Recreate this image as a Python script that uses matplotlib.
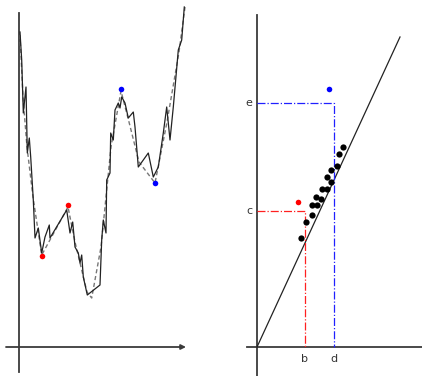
import matplotlib
matplotlib.use("Agg")
import matplotlib.pyplot as plt

# ---- left panel: price path (solid) and its approximation (dashed)
path_t = [1, 2.7, 4.3, 7, 8.3, 10.3, 11.7, 14.3, 16, 19.3, 22.7, 26, 30.3, 31, 47.7, 51, 53.7, 56,
          59.3, 61, 62.7, 64.3, 68.3, 81, 82.7, 84.3, 87, 87.7, 91, 91.7, 94.3, 96, 99.3, 101, 102.7,
          106, 109.3, 114.3, 116, 119.3, 129.3, 134.3, 139.3, 144.3, 147.7, 151, 154.3, 159.3, 162.7, 165.3]
path_v = [315, 287, 234, 260, 194, 209, 190, 147, 109, 119, 94, 110, 122, 109, 137, 114, 125, 100,
          94, 84, 92, 70, 52, 62, 107, 127, 114, 167, 174, 214, 207, 237, 244, 239, 250,
          244, 229, 235, 220, 180, 194, 170, 180, 214, 240, 207, 240, 297, 307, 340]
approx_t = [1, 4, 8, 14, 22.7, 49, 56, 68, 72.7, 82, 92, 102, 110, 120, 136, 148, 160, 166]
approx_v = [312, 250, 200, 150, 92, 140, 105, 55, 49, 100, 200, 256, 225, 185, 164, 225, 295, 340]
red_t = [23, 49]
red_v = [91, 142]
blue_t = [102, 136]
blue_v = [258, 164]

# ---- right panel: scatter against diagonal
dots_x = [43.7, 48.7, 54.7, 54.7, 59.7, 59, 64, 65, 69.7, 69.7, 74, 74, 80.3, 81.7, 86.3]
dots_y = [109.3, 125.3, 132, 142, 142, 150.3, 147.7, 157.7, 157.7, 170.3, 165.3, 177, 181.3, 193, 200.3]
red_pt = (41.3, 145.3)
blue_pt = (72.3, 257.7)
diag_x = [0, 143]
diag_slope = 2.168
red_guide = (48, 136.3)   # (b, c)
blue_guide = (77.3, 244.3)  # (d, e)
guide_labels = ["b", "c", "d", "e"]

W, H = 422, 376
fig = plt.figure(figsize=(W / 100, H / 100), dpi=100)
fig.patch.set_facecolor("white")

axis_col = "#3a3a3a"

# left axes: pixels 0..210 horizontally
axL = fig.add_axes([0, 0, 210 / W, 1])
axL.set_xlim(-19, 191)
axL.set_ylim(-29, 347)
axL.axis("off")
axL.plot([0, 0], [-25, 334], color=axis_col, lw=1.3)
axL.annotate("", xy=(167, 0), xytext=(-13, 0),
             arrowprops=dict(arrowstyle="-|>", lw=1.3, color=axis_col, mutation_scale=7,
                             shrinkA=0, shrinkB=0))
axL.plot(approx_t, approx_v, color="#777777", lw=1.0, ls=(0, (3, 2)))
axL.plot(path_t, path_v, color="#222222", lw=0.9)
axL.plot(red_t, red_v, "o", color="#ff0000", ms=4, mec="none")
axL.plot(blue_t, blue_v, "o", color="#0000ff", ms=4, mec="none")

# right axes: pixels 210..422
axR = fig.add_axes([210 / W, 0, 212 / W, 1])
axR.set_xlim(-47, 165)
axR.set_ylim(-29, 347)
axR.axis("off")
axR.plot([0, 0], [-29, 332], color=axis_col, lw=1.3)
axR.plot([-10, 165], [0, 0], color=axis_col, lw=1.3)
axR.plot(diag_x, [x * diag_slope for x in diag_x], color="#222222", lw=0.9)

b, c = red_guide
d, e = blue_guide
axR.plot([0, b, b], [c, c, 0], color="#ff2020", lw=0.9, ls="-.")
axR.plot([0, d, d], [e, e, 0], color="#2020ff", lw=0.9, ls="-.")

axR.plot(dots_x, dots_y, "o", color="black", ms=4.5, mec="none")
axR.plot([red_pt[0]], [red_pt[1]], "o", color="#ff0000", ms=4, mec="none")
axR.plot([blue_pt[0]], [blue_pt[1]], "o", color="#0000ff", ms=4, mec="none")

fs = 8
axR.text(b, -12, guide_labels[0], ha="center", va="center", fontsize=fs, color="#333333")
axR.text(-8, c, guide_labels[1], ha="center", va="center", fontsize=fs, color="#333333")
axR.text(d, -12, guide_labels[2], ha="center", va="center", fontsize=fs, color="#333333")
axR.text(-8, e, guide_labels[3], ha="center", va="center", fontsize=fs, color="#333333")

fig.savefig("out.png", dpi=100, facecolor="white")
